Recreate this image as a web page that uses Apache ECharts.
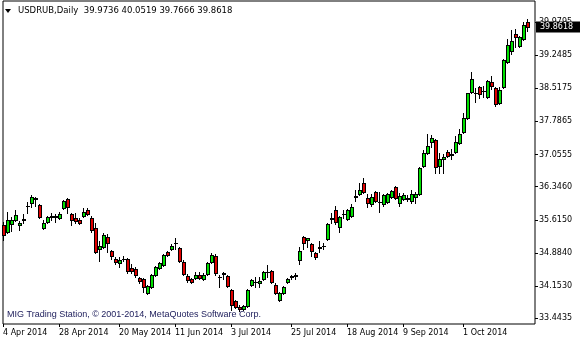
<!DOCTYPE html>
<html><head><meta charset="utf-8">
<script src="https://cdn.jsdelivr.net/npm/echarts@6/dist/echarts.min.js"></script>
<style>html,body{margin:0;padding:0;background:#fff}#c{width:580px;height:340px}</style>
</head><body><div id="c"></div>
<script>
const symbolName = 'USDRUB,Daily';
const lastOHLC = [39.9736, 40.0519, 39.7666, 39.8618];
const tickLabels = ['4 Apr 2014','28 Apr 2014','20 May 2014','11 Jun 2014','3 Jul 2014','25 Jul 2014','18 Aug 2014','9 Sep 2014','1 Oct 2014'];
const tickBars = [0,14,29,43,57,72,86,100,115];
const priceTicks = [39.9795,39.2485,38.5175,37.7865,37.0555,36.3460,35.6150,34.8840,34.1530,33.4435];
const opens = [35.50,35.35,35.52,35.61,35.50,35.63,35.91,35.99,36.08,35.94,
35.43,35.57,35.68,35.68,35.65,35.87,36.07,35.74,35.65,35.61,
35.70,35.83,35.65,35.43,34.97,35.02,35.24,34.93,34.75,34.67,
34.75,34.75,34.56,34.53,34.34,34.31,34.01,34.14,34.40,34.56,
34.62,34.91,34.97,35.11,35.00,34.69,34.38,34.31,34.34,34.40,
34.31,34.42,34.69,34.82,34.36,34.42,34.38,34.07,33.83,33.70,
33.65,33.72,34.18,34.25,34.23,34.31,34.47,34.49,34.18,33.85,
34.01,34.25,34.35,34.38,34.73,35.24,35.17,35.08,34.89,35.00,
35.04,35.19,35.65,35.83,35.46,35.74,35.63,35.70,36.12,36.18,
36.43,36.09,35.96,36.23,36.01,35.96,36.01,36.12,36.34,35.99,
36.07,36.09,36.03,36.12,36.18,36.80,37.09,37.33,37.37,36.80,
36.96,37.11,37.07,37.11,37.31,37.55,37.86,38.43,38.40,38.54,
38.45,38.32,38.65,38.52,38.19,38.54,39.09,39.34,39.71,39.45,
39.60,39.9736];
const closes = [35.28,35.61,35.61,35.72,35.54,35.62,35.93,36.12,36.09,35.68,
35.54,35.68,35.70,35.70,35.74,36.03,35.90,35.61,35.59,35.54,
35.79,35.74,35.39,34.91,35.04,35.28,35.11,34.82,34.69,34.73,
34.74,34.49,34.49,34.40,34.27,34.14,34.16,34.40,34.58,34.67,
34.84,34.84,35.04,35.10,34.71,34.42,34.29,34.25,34.40,34.34,
34.40,34.67,34.84,34.45,34.35,34.45,34.16,33.74,33.70,33.65,
33.72,34.07,34.29,34.24,34.27,34.47,34.46,34.25,34.01,34.01,
34.14,34.31,34.37,34.39,34.93,35.11,35.21,34.93,34.80,35.02,
35.03,35.52,35.64,35.57,35.68,35.75,35.83,35.90,36.13,36.27,
36.23,35.99,36.12,36.03,36.00,36.16,36.18,36.25,36.09,36.14,
36.16,36.08,36.18,36.18,36.76,37.09,37.24,37.42,36.78,36.96,
37.00,37.02,37.04,37.33,37.51,37.86,38.41,38.72,38.41,38.39,
38.46,38.67,38.56,38.17,38.48,39.14,39.47,39.56,39.64,39.64,
39.91,39.8618];
const lows = [35.17,35.33,35.37,35.59,35.39,35.54,35.76,35.90,35.92,35.65,
35.41,35.54,35.61,35.57,35.63,35.85,35.76,35.50,35.54,35.52,
35.68,35.72,35.35,34.89,34.71,35.00,34.91,34.75,34.64,34.58,
34.71,34.45,34.45,34.36,34.23,34.03,33.98,34.12,34.38,34.53,
34.60,34.82,34.95,34.97,34.69,34.40,34.25,34.23,34.31,34.31,
34.29,34.40,34.67,34.40,34.14,34.31,34.14,33.63,33.68,33.61,
33.63,33.70,34.16,34.14,34.14,34.29,34.36,34.23,33.99,33.83,
33.98,34.23,34.31,34.31,34.64,34.97,35.02,34.82,34.75,34.91,
34.97,35.17,35.54,35.52,35.35,35.65,35.61,35.68,36.03,36.16,
36.21,35.90,35.92,36.01,35.79,35.92,35.99,36.09,36.07,35.92,
36.05,36.03,35.99,35.99,36.16,36.78,37.07,37.22,36.65,36.65,
36.65,37.00,36.96,37.09,37.29,37.53,37.84,38.41,38.21,38.30,
38.32,38.30,38.50,38.12,38.17,38.52,39.07,39.27,39.42,39.42,
39.58,39.7666];
const highs = [35.57,35.79,35.68,35.83,35.59,35.74,36.01,36.16,36.12,35.96,
35.61,35.70,35.76,35.74,35.79,36.05,36.09,35.76,35.76,35.65,
35.87,35.87,35.70,35.54,35.15,35.33,35.30,34.95,34.80,34.80,
34.82,34.77,34.64,34.58,34.36,34.34,34.18,34.42,34.60,34.69,
34.86,34.93,35.08,35.22,35.02,34.73,34.42,34.34,34.47,34.47,
34.45,34.69,34.89,34.86,34.40,34.47,34.40,34.09,33.85,33.74,
33.74,34.08,34.31,34.36,34.36,34.49,34.62,34.51,34.23,34.03,
34.16,34.34,34.40,34.45,35.02,35.26,35.22,35.11,34.91,35.15,
35.11,35.54,35.76,35.92,35.70,35.83,35.85,35.96,36.27,36.43,
36.54,36.18,36.18,36.25,36.23,36.18,36.21,36.27,36.36,36.21,
36.21,36.16,36.27,36.23,36.78,37.15,37.51,37.49,37.39,37.09,
37.07,37.15,37.18,37.46,37.62,37.97,38.42,38.87,38.52,38.56,
38.56,38.70,38.79,38.54,38.54,39.16,39.60,39.80,39.82,39.67,
39.98,40.0519];
const copyright = 'MIG Trading Station, \u00a9 2001-2014, MetaQuotes Software Corp.';

const FONT = 'DejaVu Sans';
const BULL = '#00e000', BEAR = '#e00000';
const emptySlots = 2;
const nBars = opens.length;
const cats = [];
for (let i = 0; i < nBars + emptySlots; i++) cats.push(String(i));
const barData = opens.map((o, i) => [i, o, closes[i], lows[i], highs[i]]);
const labelMap = {};
tickBars.forEach((b, k) => labelMap[b] = tickLabels[k]);

function px(x, y, w, h, fill, z2) {
  return {type: 'rect', z2: z2, shape: {x: x, y: y, width: w, height: Math.max(h, 0)}, style: {fill: fill, lineWidth: 0}};
}
function renderCandle(params, api) {
  const i = api.value(0), o = api.value(1), c = api.value(2), l = api.value(3), h = api.value(4);
  const pO = api.coord([i, o]), pC = api.coord([i, c]), pL = api.coord([i, l]), pH = api.coord([i, h]);
  const x = Math.floor(pO[0] + 0.001);
  const yO = Math.round(pO[1]), yC = Math.round(pC[1]);
  const yT = Math.min(yO, yC), yB = Math.max(yO, yC);
  const yH = Math.min(Math.round(pH[1]), yT), yL = Math.max(Math.round(pL[1]), yB);
  const kids = [
    px(x, yH, 1, yT - yH, '#000', 1),
    px(x, yB + 1, 1, yL - yB, '#000', 1),
    px(x - 1, yT, 4, yB - yT + 1, '#000', 1)
  ];
  if (yB - yT >= 2) kids.push(px(x, yT + 1, 2, yB - yT - 1, c >= o ? BULL : BEAR, 5));
  return {type: 'group', children: kids};
}

const chart = echarts.init(document.getElementById('c'), null, {renderer: 'canvas'});
chart.setOption({
  animation: false,
  backgroundColor: '#ffffff',
  grid: {left: 3, right: 45, top: 1, bottom: 16, show: true, borderColor: '#000', borderWidth: 1, backgroundColor: '#fff'},
  xAxis: {
    type: 'category', data: cats, boundaryGap: false,
    axisLine: {show: false},
    axisTick: {show: true, length: 3, interval: (idx) => labelMap[idx] !== undefined, lineStyle: {color: '#000'}},
    axisLabel: {show: true, interval: (idx) => labelMap[idx] !== undefined, formatter: (v, idx) => labelMap[idx] || '',
      align: 'left', margin: 5, color: '#000', fontFamily: FONT, fontSize: 8},
    splitLine: {show: false}
  },
  yAxis: {
    type: 'value', position: 'right', min: 33.318, max: 40.439, scale: true,
    axisLine: {show: false},
    axisTick: {show: true, length: 3, customValues: priceTicks, lineStyle: {color: '#000'}},
    axisLabel: {show: true, customValues: priceTicks, formatter: (v) => v.toFixed(4), margin: 4, color: '#000', fontFamily: FONT, fontSize: 8},
    splitLine: {show: false}
  },
  series: [{
    type: 'custom', data: barData, renderItem: renderCandle,
    encode: {x: 0, y: [1, 2, 3, 4]}, clip: false
  }]
});

const py = chart.convertToPixel({yAxisIndex: 0}, lastOHLC[3]);
chart.setOption({
  graphic: [
    {type: 'polygon', z: 100, shape: {points: [[5, 9], [11, 9], [8, 13]]}, style: {fill: '#000'}},
    {type: 'text', z: 100, left: 18, top: 6, style: {text: symbolName + '  ' + lastOHLC.map(v => v.toFixed(4)).join(' '), fill: '#000', font: '8.5px "' + FONT + '"'}},
    {type: 'text', z: 100, left: 7, top: 310, style: {text: copyright, fill: '#1c1c5a', font: '9px "Liberation Sans"'}},
    {type: 'rect', z: 100, shape: {x: 536, y: Math.round(py) - 5.5, width: 44, height: 11}, style: {fill: '#000'}},
    {type: 'text', z: 101, x: 540, y: Math.round(py), style: {text: lastOHLC[3].toFixed(4), fill: '#fff', font: '8px "' + FONT + '"', verticalAlign: 'middle'}}
  ]
});
</script></body></html>
